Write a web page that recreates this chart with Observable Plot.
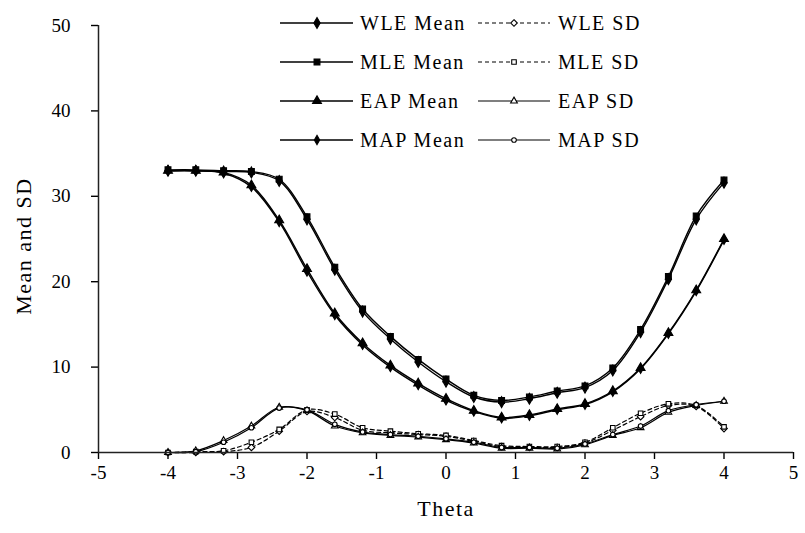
<!DOCTYPE html>
<html><head><meta charset="utf-8">
<script src="https://cdn.jsdelivr.net/npm/d3@7"></script>
<script src="https://cdn.jsdelivr.net/npm/@observablehq/plot@0.6"></script>
<style>
body{margin:0;background:#fff}
#wrap{position:relative;width:805px;height:533px}
#legend{position:absolute;left:0;top:0;pointer-events:none}
</style>
</head><body><div id="wrap"></div>
<script>
const theta = [-4,-3.6,-3.2,-2.8,-2.4,-2,-1.6,-1.2,-0.8,-0.4,0,0.4,0.8,1.2,1.6,2,2.4,2.8,3.2,3.6,4];
const wleMean = [33.0,33.0,32.9,32.8,31.8,27.3,21.4,16.5,13.3,10.6,8.3,6.5,5.9,6.3,7.0,7.6,9.6,14.1,20.3,27.3,31.6];
const mleMean = [33.1,33.1,33.0,32.9,32.0,27.6,21.7,16.8,13.6,10.9,8.6,6.7,6.1,6.5,7.2,7.8,9.9,14.4,20.6,27.7,31.9];
const eapMean = [33.0,33.0,32.8,31.3,27.2,21.5,16.3,12.8,10.2,8.1,6.3,4.9,4.1,4.4,5.1,5.7,7.2,9.9,14.0,19.0,25.0];
const mapMean = [33.0,33.0,32.7,31.1,27.0,21.2,16.1,12.6,10.0,7.9,6.1,4.8,4.0,4.3,5.0,5.6,7.1,9.8,13.9,18.9,24.9];
const wleSD = [0,0,0.1,0.6,2.5,4.8,4.1,2.6,2.3,2.1,1.9,1.3,0.7,0.6,0.6,1.1,2.6,4.2,5.5,5.4,2.8];
const mleSD = [0,0.1,0.2,1.2,2.7,5.0,4.5,2.9,2.5,2.2,2.0,1.4,0.8,0.7,0.7,1.2,2.9,4.6,5.7,5.5,3.0];
const eapSD = [0,0.2,1.4,3.1,5.3,4.9,3.1,2.3,2.0,1.8,1.5,1.1,0.5,0.5,0.4,0.9,2.0,2.9,4.7,5.5,6.0];
const mapSD = [0,0.1,1.2,2.9,5.2,5.0,3.3,2.4,2.1,1.9,1.6,1.2,0.6,0.6,0.5,1.0,2.1,3.1,4.9,5.6,6.0];
const xTicks = [-5,-4,-3,-2,-1,0,1,2,3,4,5];
const yTicks = [0,10,20,30,40,50];
const xLabel = "Theta";
const yLabel = "Mean and SD";

const series = [
  {name:"WLE Mean", values:wleMean, dash:null, symbol:"diamond", d3sym:d3.symbolDiamond, fill:"black", r:3.3, sw:1.4},
  {name:"MLE Mean", values:mleMean, dash:null, symbol:"square", d3sym:d3.symbolSquare, fill:"black", r:3.3, sw:1.4},
  {name:"EAP Mean", values:eapMean, dash:null, symbol:"triangle", d3sym:d3.symbolTriangle, fill:"black", r:3.3, sw:1.4},
  {name:"MAP Mean", values:mapMean, dash:null, symbol:"diamond", d3sym:d3.symbolDiamond, fill:"black", r:2.8, sw:1.4},
  {name:"WLE SD", values:wleSD, dash:"4,3", symbol:"diamond2", d3sym:d3.symbolDiamond2, fill:"white", r:3.0, sw:1.2},
  {name:"MLE SD", values:mleSD, dash:"4,3", symbol:"square2", d3sym:d3.symbolSquare2, fill:"white", r:2.9, sw:1.2},
  {name:"EAP SD", values:eapSD, dash:null, symbol:"triangle2", d3sym:d3.symbolTriangle2, fill:"white", r:3.2, sw:1.2},
  {name:"MAP SD", values:mapSD, dash:null, symbol:"circle", d3sym:d3.symbolCircle, fill:"white", r:2.3, sw:1.2}
];

const marks = [];
for (const s of series) {
  const data = theta.map((t,i)=>({theta:t, value:s.values[i]}));
  marks.push(Plot.line(data, {x:"theta", y:"value", curve:"catmull-rom", stroke:"black", strokeWidth:s.sw, strokeDasharray:s.dash}));
}
for (const s of series) {
  const data = theta.map((t,i)=>({theta:t, value:s.values[i]}));
  marks.push(Plot.dot(data, {x:"theta", y:"value", symbol:s.symbol, r:s.r, fill:s.fill, stroke:"black", strokeWidth:1.1}));
}

const serif = "'Liberation Serif', 'Times New Roman', serif";
const chart = Plot.plot({
  width: 805, height: 533,
  marginLeft: 98, marginRight: 12, marginTop: 25, marginBottom: 81,
  style: {fontFamily: serif, fontSize: "19px", color: "black", background: "white"},
  x: {domain: [-5,5]},
  y: {domain: [0,50]},
  marks: [
    Plot.axisX({ticks: xTicks, tickSize: 7, tickPadding: 6, label: null, tickFormat: d => String(d), fontSize: 19, strokeWidth: 1.4}),
    Plot.axisY({ticks: yTicks, tickSize: 7, tickPadding: 21, label: null, tickFormat: d => String(d), fontSize: 19, strokeWidth: 1.4}),
    ...marks,
    Plot.ruleY([0], {stroke: "#222", strokeWidth: 1.5}),
    Plot.ruleX([-5], {stroke: "#222", strokeWidth: 1.5}),
    Plot.text([xLabel], {frameAnchor: "bottom", textAnchor: "middle", dy: 63, fontSize: 22, className: "lbl"}),
    Plot.text([yLabel], {frameAnchor: "left", textAnchor: "middle", rotate: -90, dx: -75, dy: 7, fontSize: 22, className: "lbl"})
  ]
});
const wrap = document.getElementById("wrap");
wrap.appendChild(chart);
d3.select(chart).selectAll(".lbl text").style("letter-spacing", "1.5px");

// Legend overlay
const lg = d3.select(wrap).append("svg").attr("id","legend").attr("width",805).attr("height",533)
  .style("font-family", serif).style("font-size","20px").style("letter-spacing","1.5px");
const rowY = [23, 62, 101, 140];
const cols = [{x0:280, x1:353, m:317, tx:360}, {x0:478, x1:550, m:514, tx:558}];
series.forEach((s, i) => {
  const c = cols[i < 4 ? 0 : 1];
  const y = rowY[i % 4];
  const g = lg.append("g");
  g.append("line").attr("x1", c.x0).attr("x2", c.x1).attr("y1", y).attr("y2", y)
    .attr("stroke", "black").attr("stroke-width", s.sw).attr("stroke-dasharray", s.dash);
  g.append("path").attr("transform", `translate(${c.m},${y})`)
    .attr("d", d3.symbol(s.d3sym, Math.PI * s.r * s.r)())
    .attr("fill", s.fill).attr("stroke", "black").attr("stroke-width", 1.1);
  g.append("text").attr("x", c.tx).attr("y", y).attr("dy", "0.35em").text(s.name);
});
</script>
</body></html>
